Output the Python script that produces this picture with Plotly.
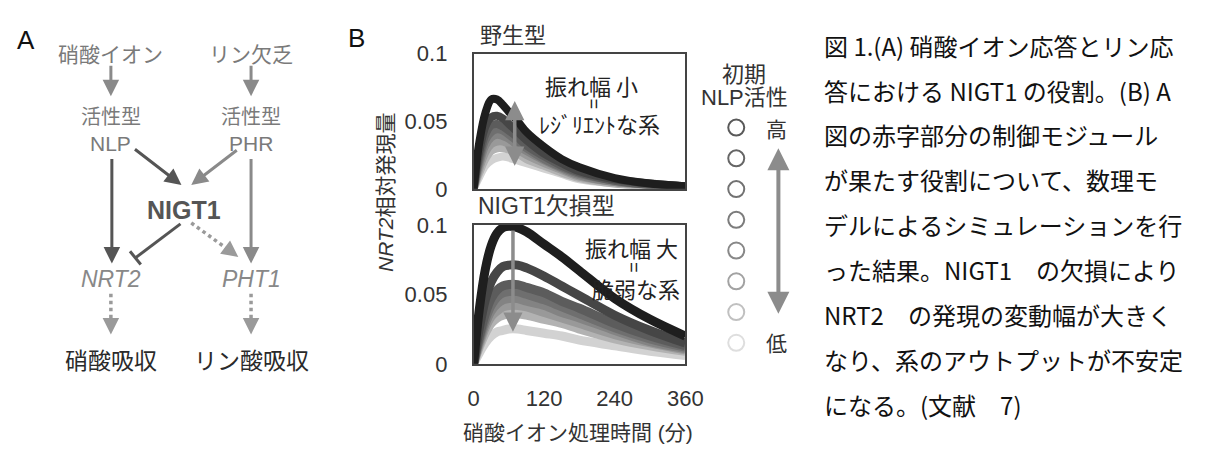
import plotly.graph_objects as go

# ---------------- data ----------------
time_min = [0, 10, 20, 30, 40, 50, 60, 75, 90, 120, 150, 180, 240, 300, 360]

# wild type (野生型): NRT2 relative expression, initial NLP activity high -> low
wt_1 = [0, 0.035, 0.056, 0.066, 0.066, 0.062, 0.057, 0.050, 0.042, 0.031, 0.022, 0.016, 0.008, 0.004, 0.002]
wt_2 = [0, 0.028, 0.046, 0.053, 0.054, 0.052, 0.048, 0.042, 0.036, 0.026, 0.019, 0.013, 0.007, 0.004, 0.002]
wt_3 = [0, 0.024, 0.040, 0.047, 0.048, 0.046, 0.043, 0.038, 0.032, 0.024, 0.017, 0.012, 0.006, 0.003, 0.002]
wt_4 = [0, 0.021, 0.036, 0.042, 0.044, 0.043, 0.040, 0.035, 0.030, 0.022, 0.016, 0.011, 0.006, 0.003, 0.002]
wt_5 = [0, 0.018, 0.032, 0.038, 0.040, 0.039, 0.037, 0.032, 0.028, 0.021, 0.015, 0.010, 0.005, 0.003, 0.002]
wt_6 = [0, 0.015, 0.027, 0.033, 0.035, 0.035, 0.033, 0.029, 0.025, 0.019, 0.014, 0.009, 0.005, 0.003, 0.001]
wt_7 = [0, 0.012, 0.022, 0.028, 0.030, 0.030, 0.029, 0.026, 0.022, 0.017, 0.012, 0.008, 0.004, 0.002, 0.001]
wt_8 = [0, 0.009, 0.017, 0.021, 0.023, 0.024, 0.023, 0.021, 0.019, 0.015, 0.011, 0.007, 0.004, 0.002, 0.001]

# NIGT1 mutant (NIGT1欠損型)
mut_1 = [0, 0.040, 0.068, 0.085, 0.094, 0.098, 0.099, 0.098, 0.095, 0.086, 0.077, 0.067, 0.047, 0.032, 0.020]
mut_2 = [0, 0.026, 0.046, 0.059, 0.066, 0.070, 0.071, 0.071, 0.069, 0.063, 0.056, 0.049, 0.035, 0.024, 0.015]
mut_3 = [0, 0.020, 0.036, 0.047, 0.053, 0.056, 0.057, 0.057, 0.055, 0.051, 0.045, 0.040, 0.029, 0.020, 0.013]
mut_4 = [0, 0.018, 0.032, 0.042, 0.048, 0.051, 0.052, 0.052, 0.050, 0.046, 0.041, 0.036, 0.026, 0.018, 0.012]
mut_5 = [0, 0.016, 0.029, 0.038, 0.043, 0.046, 0.047, 0.047, 0.045, 0.042, 0.037, 0.033, 0.024, 0.016, 0.011]
mut_6 = [0, 0.014, 0.026, 0.034, 0.038, 0.041, 0.042, 0.042, 0.041, 0.037, 0.033, 0.029, 0.021, 0.015, 0.010]
mut_7 = [0, 0.012, 0.022, 0.029, 0.033, 0.035, 0.036, 0.036, 0.035, 0.032, 0.029, 0.025, 0.018, 0.013, 0.009]
mut_8 = [0, 0.008, 0.015, 0.020, 0.023, 0.024, 0.025, 0.025, 0.024, 0.022, 0.020, 0.017, 0.013, 0.009, 0.006]

wt_series = [wt_1, wt_2, wt_3, wt_4, wt_5, wt_6, wt_7, wt_8]
mut_series = [mut_1, mut_2, mut_3, mut_4, mut_5, mut_6, mut_7, mut_8]
nlp_levels = [0, 1, 2, 3, 4, 5, 6, 7]   # legend rows, high -> low

y_tickvals = [0, 0.05, 0.1]
y_ticktext = ["0", "0.05", "0.1"]
x_tickvals = [0, 120, 240, 360]
x_ticktext = ["0", "120", "240", "360"]

caption_lines = [
    "図 1.(A) 硝酸イオン応答とリン応",
    "答における NIGT1 の役割。(B) A",
    "図の赤字部分の制御モジュール",
    "が果たす役割について、数理モ",
    "デルによるシミュレーションを行",
    "った結果。NIGT1　の欠損により",
    "NRT2　の発現の変動幅が大きく",
    "なり、系のアウトプットが不安定",
    "になる。(文献　7)",
]

# ---------------- style ----------------
W, H = 1212, 461
CJK = "Noto Sans CJK JP"
LAT = "Liberation Sans, Arial, Noto Sans CJK JP"
series_colors = ["#1e1e1e", "#464646", "#5c5c5c", "#6f6f6f", "#838383", "#999999", "#b2b2b2", "#d2d2d2"]
legend_colors = ["#5a5a5a", "#666666", "#727272", "#7c7c7c", "#888888", "#a2a2a2", "#c0c0c0", "#dedede"]


def px(x):
    return x / W


def py(y):
    return 1 - y / H


fig = go.Figure()

for i in reversed(range(len(wt_series))):
    fig.add_trace(go.Scatter(x=time_min, y=wt_series[i], mode="lines", line=dict(color=series_colors[i], width=8, shape="spline"),
                             xaxis="x", yaxis="y", hoverinfo="skip"))
for i in reversed(range(len(mut_series))):
    fig.add_trace(go.Scatter(x=time_min, y=mut_series[i], mode="lines", line=dict(color=series_colors[i], width=9, shape="spline"),
                             xaxis="x2", yaxis="y2", hoverinfo="skip"))

fig.add_trace(go.Scatter(x=[0] * len(nlp_levels), y=nlp_levels, mode="markers",
                         marker=dict(symbol="circle-open", size=16, color=legend_colors, line=dict(width=2, color=legend_colors)),
                         xaxis="x3", yaxis="y3", hoverinfo="skip"))

frame = dict(showline=True, mirror=True, linecolor="#444444", linewidth=1.5, showgrid=False, zeroline=False, ticks="")
xdom = [px(477), px(693)]
fig.update_layout(
    width=W, height=H, margin=dict(l=0, r=0, t=0, b=0),
    paper_bgcolor="white", plot_bgcolor="white", showlegend=False,
    xaxis=dict(domain=xdom, range=[0, 360], anchor="y", showticklabels=False, **frame),
    yaxis=dict(domain=[py(187), py(44)], range=[0, 0.1], anchor="x", tickvals=y_tickvals, ticktext=y_ticktext,
               tickfont=dict(family=LAT, size=22, color="#333333"), ticklabelstandoff=20, **frame),
    xaxis2=dict(domain=xdom, range=[0, 360], anchor="y2", tickvals=x_tickvals, ticktext=x_ticktext,
                tickfont=dict(family=LAT, size=22, color="#333333"), ticklabelstandoff=14, **frame),
    yaxis2=dict(domain=[py(372), py(225)], range=[0, 0.1], anchor="x2", tickvals=y_tickvals, ticktext=y_ticktext,
                tickfont=dict(family=LAT, size=22, color="#333333"), ticklabelstandoff=20, **frame),
    xaxis3=dict(domain=[px(735), px(755)], range=[-1, 1], anchor="y3", visible=False),
    yaxis3=dict(domain=[py(366), py(106)], range=[7.5, -0.5], anchor="x3", visible=False),
)


def text(x, y, s, size, color="#333333", family=CJK, xanchor="center", angle=0):
    fig.add_annotation(x=px(x), y=py(y), xref="paper", yref="paper", text=s, showarrow=False,
                       xanchor=xanchor, yanchor="middle", textangle=angle,
                       font=dict(family=family, size=size, color=color))


def arrow(x0, y0, x1, y1, color, width=3.0, head=2, size=1.1, side="end"):
    fig.add_annotation(x=px(x1), y=py(y1), xref="paper", yref="paper", ax=x0 - x1, ay=y0 - y1,
                       axref="pixel", ayref="pixel", text="", showarrow=True, arrowhead=head,
                       arrowsize=size, arrowwidth=width, arrowcolor=color, arrowside=side)


def seg(x0, y0, x1, y1, color, width=3.0, dash="solid"):
    fig.add_shape(type="line", xref="paper", yref="paper", x0=px(x0), y0=py(y0), x1=px(x1), y1=py(y1),
                  line=dict(color=color, width=width, dash=dash))


# ---------------- panel A ----------------
text(20, 30, "A", 26, "#111111", LAT)
text(107, 43, "硝酸イオン", 21, "#7a7a7a")
text(250, 43, "リン欠乏", 21, "#7a7a7a")
arrow(107, 57, 107, 89, "#8a8a8a")
arrow(250, 57, 250, 89, "#8a8a8a")
text(107, 109, "活性型", 20, "#7a7a7a")
text(107, 139, "NLP", 21, "#7a7a7a", LAT)
text(250, 109, "活性型", 20, "#7a7a7a")
text(250, 139, "PHR", 21, "#7a7a7a", LAT)
arrow(108, 160, 108, 266, "#555555")
arrow(250, 160, 250, 266, "#8a8a8a")
arrow(131, 146, 179, 183, "#555555")
arrow(236, 147, 189, 183, "#8a8a8a")
text(182, 209, "<b>NIGT1</b>", 25, "#555555", LAT)
seg(178, 224, 132, 260, "#555555", 3)
seg(126.5, 253, 137.5, 267, "#555555", 3)
seg(189, 223, 229, 253, "#9a9a9a", 3.5, "dot")
arrow(229, 253, 237, 259, "#9a9a9a")
text(107, 282, "<i>NRT2</i>", 23, "#888888", LAT)
text(250, 282, "<i>PHT1</i>", 23, "#888888", LAT)
seg(107, 298, 107, 330, "#9a9a9a", 3.5, "dot")
arrow(107, 330, 107, 341, "#9a9a9a")
seg(250, 298, 250, 330, "#9a9a9a", 3.5, "dot")
arrow(250, 330, 250, 341, "#9a9a9a")
text(107, 367, "硝酸吸収", 23, "#2a2a2a")
text(250, 367, "リン酸吸収", 23, "#2a2a2a")

# ---------------- panel B ----------------
text(358, 27, "B", 26, "#111111", LAT)
text(482, 22, "野生型", 22, "#333333", xanchor="left")
text(480, 205, "NIGT1欠損型", 23, "#333333", LAT, xanchor="left")
text(387, 191, "<i>NRT2</i>相対発現量", 21, "#333333", LAT, angle=-90)
text(584, 445, "硝酸イオン処理時間 (分)", 21, "#333333", LAT)

text(597, 77, "振れ幅 小", 22, "#222222")
text(600, 97, "=", 18, "#222222", LAT, angle=90)
text(605, 117, "ﾚｼﾞﾘｴﾝﾄな系", 22, "#222222")
text(638, 248, "振れ幅 大", 22, "#222222")
text(640, 270, "=", 18, "#222222", LAT, angle=90)
text(643, 292, "脆弱な系", 22, "#222222")

fig.add_annotation(x=70, y=0.017, xref="x", yref="y", ax=70, ay=0.066, axref="x", ayref="y", text="",
                   showarrow=True, arrowhead=2, arrowsize=1.1, arrowwidth=3.5, arrowcolor="#8c8c8c", arrowside="end+start")
fig.add_annotation(x=67, y=0.023, xref="x2", yref="y2", ax=67, ay=0.097, axref="x2", ayref="y2", text="",
                   showarrow=True, arrowhead=2, arrowsize=1.1, arrowwidth=3.5, arrowcolor="#8c8c8c", arrowside="end")

text(753, 63, "初期", 22, "#333333")
text(753, 90, "NLP活性", 22, "#333333", LAT)
text(786, 123, "高", 21, "#333333")
text(786, 349, "低", 21, "#333333")
arrow(788, 152, 788, 319, "#8c8c8c", width=4, side="end+start")

# ---------------- caption ----------------
for k, line in enumerate(caption_lines):
    text(832, 35 + k * 47.5, line, 24, "#111111", CJK, xanchor="left")

fig.write_html("out.html", config={"displayModeBar": False},
               post_script="document.body.style.margin='0px';document.body.style.overflow='hidden';")
